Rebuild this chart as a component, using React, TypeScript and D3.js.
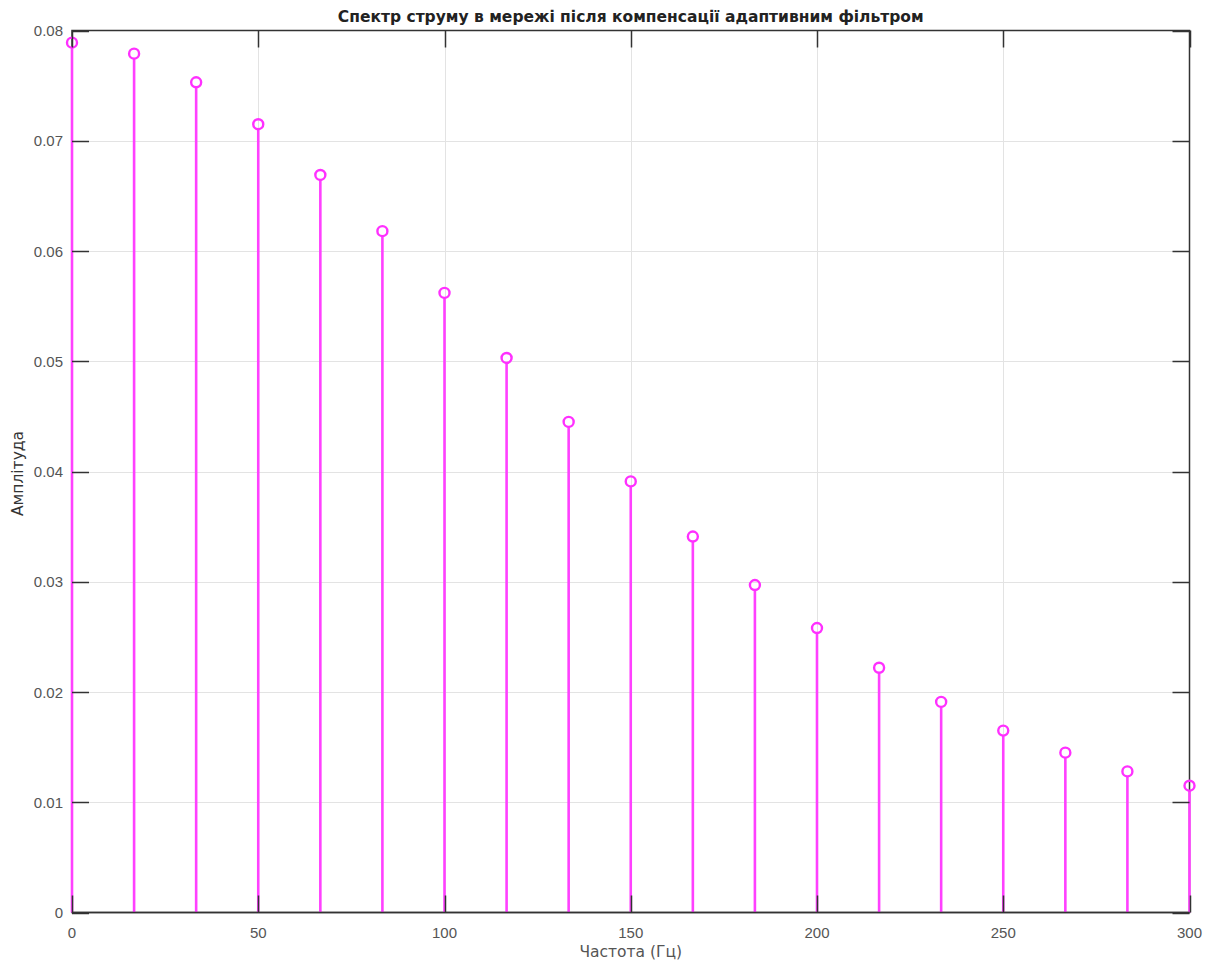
import React, { useEffect, useRef } from 'react';
import * as d3 from 'd3';

// spectrum after adaptive-filter compensation
const freqs = [0, 16.67, 33.33, 50, 66.67, 83.33, 100, 116.67, 133.33, 150, 166.67, 183.33, 200, 216.67, 233.33, 250, 266.67, 283.33, 300];
const amps = [0.0789, 0.0779, 0.0753, 0.0715, 0.0669, 0.0618, 0.0562, 0.0503, 0.0445, 0.0391, 0.0341, 0.0297, 0.0258, 0.0222, 0.0191, 0.0165, 0.0145, 0.0128, 0.0115];
const xTicks = [0, 50, 100, 150, 200, 250, 300];
const yTicks = [0, 0.01, 0.02, 0.03, 0.04, 0.05, 0.06, 0.07, 0.08];

const title = 'Спектр струму в мережі після компенсації адаптивним фільтром';
const xLabel = 'Частота (Гц)';
const yLabel = 'Амплітуда';

const App: React.FC = () => {
  const svgRef = useRef<SVGSVGElement>(null);

  useEffect(() => {
    if (!svgRef.current) return;
    const svg = d3.select(svgRef.current);
    svg.selectAll('*').remove();

    const W = 1217, H = 960;
    const left = 72, right = 1189.5, top = 30.5, bottom = 912.5;
    const x = d3.scaleLinear().domain([0, 300]).range([left, right]);
    const y = d3.scaleLinear().domain([0, 0.08]).range([bottom, top]);
    const tickLen = 17;
    const numFont = 'Arial, "Liberation Sans", sans-serif';
    const txtFont = '"DejaVu Sans", Arial, sans-serif';

    svg.attr('width', W).attr('height', H).style('display', 'block').style('background', '#fff');

    // grid
    const grid = svg.append('g').attr('stroke', '#e3e3e3').attr('stroke-width', 1);
    grid.selectAll('line.vx').data(xTicks.slice(1, -1)).join('line')
      .attr('x1', d => Math.round(x(d)) + 0.5).attr('x2', d => Math.round(x(d)) + 0.5)
      .attr('y1', top).attr('y2', bottom);
    grid.selectAll('line.hy').data(yTicks.slice(1, -1)).join('line')
      .attr('x1', left).attr('x2', right)
      .attr('y1', d => Math.round(y(d)) + 0.5).attr('y2', d => Math.round(y(d)) + 0.5);

    // axes box
    svg.append('rect')
      .attr('x', left).attr('y', top).attr('width', right - left).attr('height', bottom - top)
      .attr('fill', 'none').attr('stroke', '#333').attr('stroke-width', 1.5);

    // stems
    const stems = svg.append('g');
    stems.selectAll('line').data(freqs).join('line')
      .attr('x1', d => x(d)).attr('x2', d => x(d))
      .attr('y1', y(0)).attr('y2', (d, i) => y(amps[i]) + 5)
      .attr('stroke', '#ff40ff').attr('stroke-width', 2.6);
    stems.selectAll('circle').data(freqs).join('circle')
      .attr('cx', d => x(d)).attr('cy', (d, i) => y(amps[i]))
      .attr('r', 5).attr('fill', 'none')
      .attr('stroke', '#ff30ff').attr('stroke-width', 2.4);

    // ticks (inward, on all four sides), drawn over the stems
    const ticks = svg.append('g').attr('stroke', '#333').attr('stroke-width', 1.5);
    xTicks.forEach(t => {
      const px = Math.round(x(t)) + 0.5;
      ticks.append('line').attr('x1', px).attr('x2', px).attr('y1', bottom).attr('y2', bottom - tickLen);
      ticks.append('line').attr('x1', px).attr('x2', px).attr('y1', top).attr('y2', top + tickLen);
    });
    yTicks.forEach(t => {
      const py = Math.round(y(t)) + 0.5;
      ticks.append('line').attr('x1', left).attr('x2', left + tickLen).attr('y1', py).attr('y2', py);
      ticks.append('line').attr('x1', right).attr('x2', right - tickLen).attr('y1', py).attr('y2', py);
    });
    ticks.append('line').attr('x1', left).attr('x2', right).attr('y1', bottom).attr('y2', bottom);

    // tick labels
    svg.append('g').selectAll('text').data(xTicks).join('text')
      .attr('x', d => x(d)).attr('y', bottom + 25)
      .attr('text-anchor', 'middle').attr('font-family', numFont).attr('font-size', 15).attr('fill', '#555')
      .text(d => String(d));
    svg.append('g').selectAll('text').data(yTicks).join('text')
      .attr('x', left - 9).attr('y', d => y(d) + 5.5)
      .attr('text-anchor', 'end').attr('font-family', numFont).attr('font-size', 15).attr('fill', '#555')
      .text(d => (d === 0 ? '0' : d.toFixed(2)));

    // labels
    svg.append('text')
      .attr('x', (left + right) / 2).attr('y', 22)
      .attr('text-anchor', 'middle').attr('font-family', txtFont).attr('font-size', 15.5)
      .attr('font-weight', 'bold').attr('fill', '#222')
      .text(title);
    svg.append('text')
      .attr('x', (left + right) / 2).attr('y', 957)
      .attr('text-anchor', 'middle').attr('font-family', txtFont).attr('font-size', 15.5).attr('fill', '#555')
      .text(xLabel);
    svg.append('text')
      .attr('transform', `translate(23,${(top + bottom) / 2 + 2}) rotate(-90)`)
      .attr('text-anchor', 'middle').attr('font-family', txtFont).attr('font-size', 15.5).attr('fill', '#333')
      .text(yLabel);
  }, []);

  return (
    <div style={{ position: 'absolute', left: 0, top: 0 }}>
      <svg ref={svgRef} />
    </div>
  );
};

export default App;
